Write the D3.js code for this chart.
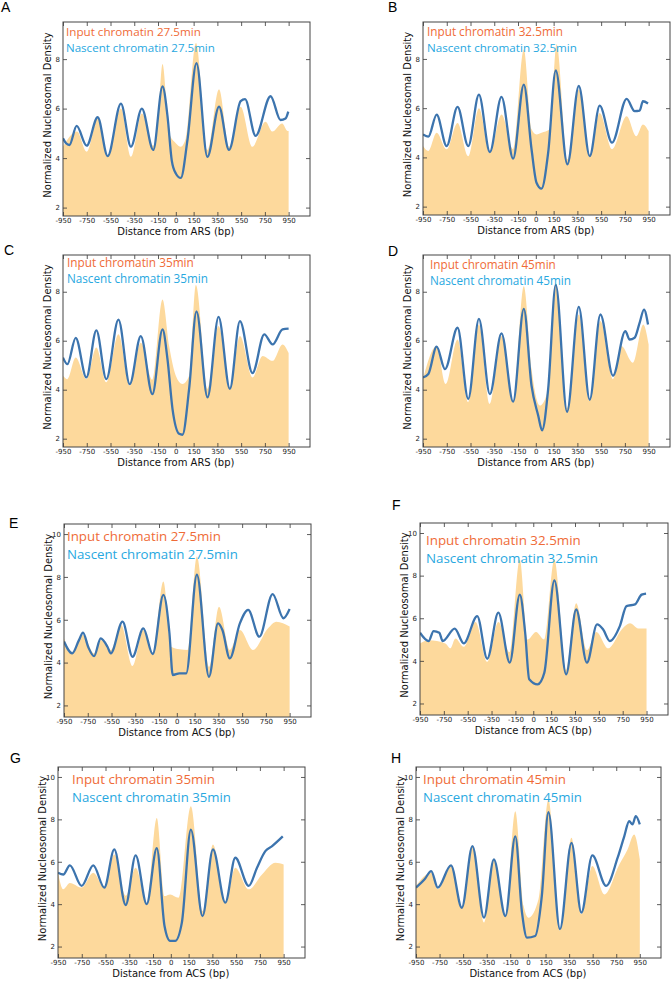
<!DOCTYPE html>
<html>
<head>
<meta charset="utf-8">
<script src="https://cdn.jsdelivr.net/npm/d3@7"></script>
<style>
  body { margin: 0; background: #fff; }
  svg text { font-family: "DejaVu Sans", sans-serif; }
  svg text.legend { font-family: "Open Sans", sans-serif; }
  svg text.letter { font-family: "Liberation Sans", Arial, sans-serif; }
</style>
</head>
<body>
<script>
// x ticks and y ticks
var xTicks = [-950, -750, -550, -350, -150, 0, 150, 350, 550, 750, 950];
var yTicksARS = [2, 4, 6, 8];
var yTicksACS = [2, 4, 6, 8, 10];
var timepoints = ["27.5", "32.5", "35", "45", "27.5", "32.5", "35", "45"];
var sites = ["ARS", "ARS", "ARS", "ARS", "ACS", "ACS", "ACS", "ACS"];

// [distance bp, density]
var inputA = [[-950,4.46],[-832,5.07],[-750,4.26],[-658,5.6],[-574,4.1],[-462,6.0],[-378,4.05],[-286,5.8],[-190,4.5],[-150,5.5],[-112,7.8],[-56,5.0],[0,4.6],[42,4.46],[84,4.8],[170,8.65],[266,4.33],[364,6.78],[448,4.46],[546,6.08],[644,4.46],[756,5.47],[812,5.07],[896,5.4],[941,5.1],[950,5.1]];
var nascentA = [[-950,4.8],[-924,4.6],[-896,4.53],[-835,5.3],[-751,4.5],[-658,5.65],[-574,4.08],[-462,6.2],[-378,4.46],[-286,6.0],[-190,4.33],[-112,6.9],[-70,5.7],[-34,3.9],[0,3.38],[42,3.2],[98,4.73],[174,7.84],[266,4.05],[364,6.08],[448,4.33],[546,6.3],[583,6.38],[672,4.9],[798,6.5],[882,5.54],[924,5.6],[947,5.88]];

var inputB = [[-950,4.46],[-905,4.26],[-835,5.0],[-751,4.33],[-659,5.4],[-569,4.05],[-479,6.0],[-387,4.19],[-289,5.74],[-191,4.33],[-101,8.38],[-36,5.14],[6,4.93],[48,5.0],[118,5.14],[175,8.6],[266,3.92],[362,6.76],[454,4.12],[538,5.8],[642,4.33],[765,5.67],[846,4.86],[902,5.34],[950,5.07]];
var nascentB = [[-950,4.93],[-905,4.84],[-835,5.74],[-751,4.46],[-659,6.05],[-569,4.46],[-479,6.55],[-387,4.22],[-289,6.46],[-191,3.95],[-101,6.96],[-36,4.33],[6,2.97],[48,2.73],[104,4.19],[168,7.53],[266,3.72],[362,6.9],[454,4.05],[538,6.1],[642,4.6],[765,6.38],[832,5.88],[874,5.9],[902,6.28],[945,6.19]];

var inputC = [[-950,4.57],[-913,4.43],[-843,5.31],[-753,4.43],[-669,5.72],[-585,4.3],[-483,6.26],[-388,4.16],[-295,5.92],[-197,4.4],[-112,7.68],[-56,5.78],[0,4.57],[56,4.23],[112,4.57],[169,8.28],[267,4.03],[360,6.6],[455,4.1],[540,6.19],[646,4.5],[731,5.38],[815,5.18],[899,5.85],[950,5.5]];
var nascentC = [[-950,5.31],[-913,5.04],[-843,6.12],[-753,4.5],[-669,6.42],[-585,4.43],[-483,6.86],[-388,4.23],[-295,6.19],[-197,3.82],[-112,6.46],[-70,5.24],[-28,3.22],[28,2.2],[56,2.16],[112,4.03],[174,7.2],[267,3.69],[360,6.97],[455,4.03],[540,6.8],[646,4.68],[745,6.26],[815,5.85],[899,6.46],[950,6.49]];

var inputD = [[-950,4.43],[-835,5.78],[-760,4.23],[-659,6.05],[-569,3.49],[-479,6.66],[-387,3.42],[-289,6.19],[-191,3.49],[-101,8.22],[-36,4.84],[34,3.35],[104,4.03],[168,8.35],[263,3.24],[362,7.07],[454,3.55],[544,6.8],[650,4.43],[720,5.78],[818,5.1],[905,6.66],[950,5.85]];
var nascentD = [[-950,4.5],[-905,4.64],[-835,5.76],[-765,4.84],[-659,6.53],[-569,3.62],[-479,6.89],[-387,3.82],[-289,6.3],[-191,3.51],[-101,7.3],[-36,4.16],[20,2.95],[53,2.34],[104,4.03],[168,8.28],[263,3.1],[362,7.38],[454,3.59],[544,7.07],[650,4.57],[754,6.39],[790,6.05],[832,6.12],[874,6.73],[911,7.27],[945,6.66]];

var inputE = [[-950,5.13],[-881,4.5],[-790,5.29],[-697,4.43],[-641,5.05],[-556,4.59],[-469,5.76],[-373,3.84],[-282,5.52],[-203,4.43],[-113,7.78],[-48,4.74],[23,4.62],[93,4.59],[169,8.95],[271,3.8],[355,6.61],[446,4.59],[531,5.52],[642,4.59],[768,5.6],[838,5.91],[950,5.68]];
var nascentE = [[-950,4.98],[-881,4.43],[-824,5.05],[-790,5.4],[-745,4.71],[-697,4.3],[-641,5.13],[-584,4.74],[-556,4.43],[-457,5.91],[-373,4.27],[-282,5.6],[-203,4.4],[-113,7.16],[-62,5.37],[-34,3.42],[23,3.5],[79,3.5],[169,8.1],[271,3.34],[347,5.83],[384,5.52],[446,4.2],[531,5.83],[601,6.46],[695,5.21],[807,7.2],[898,6.07],[950,6.5]];

var inputF = [[-950,4.82],[-878,4.97],[-737,4.82],[-695,4.59],[-653,5.05],[-583,4.66],[-484,5.83],[-386,3.96],[-293,5.83],[-197,4.4],[-113,8.75],[-48,5.0],[23,5.36],[93,5.0],[177,8.75],[276,3.57],[360,6.7],[450,4.51],[529,5.36],[628,4.59],[749,5.52],[811,5.76],[881,5.52],[950,5.52]];
var nascentF = [[-950,5.32],[-878,4.93],[-836,5.4],[-788,5.32],[-760,4.93],[-659,5.51],[-583,4.82],[-470,6.1],[-386,4.1],[-293,6.26],[-197,3.92],[-113,7.11],[-68,5.32],[-34,3.14],[37,2.9],[93,3.45],[177,7.78],[276,3.37],[360,6.41],[450,3.92],[535,5.71],[585,5.48],[642,4.93],[726,5.63],[782,6.57],[853,6.65],[909,7.11],[946,7.16]];

var inputG = [[-950,5.48],[-906,4.7],[-850,5.0],[-751,4.78],[-653,5.48],[-560,4.78],[-476,6.34],[-380,4.4],[-296,5.72],[-203,4.0],[-118,8.07],[-53,4.38],[-6,4.46],[65,4.3],[169,8.62],[267,3.68],[355,6.82],[459,4.07],[543,5.72],[656,4.7],[768,5.4],[881,5.95],[950,5.87]];
var nascentG = [[-950,5.48],[-906,5.4],[-850,5.83],[-751,4.86],[-653,5.83],[-560,4.78],[-476,6.58],[-380,3.96],[-296,6.3],[-203,4.0],[-118,6.64],[-53,2.97],[-6,2.27],[37,2.27],[93,3.13],[169,7.52],[267,3.44],[355,6.58],[459,4.07],[543,6.19],[656,4.86],[726,5.72],[796,6.5],[853,6.74],[943,7.2]];

var inputH = [[-950,4.86],[-821,5.48],[-765,4.7],[-653,5.8],[-561,3.83],[-471,6.74],[-373,3.13],[-289,6.11],[-191,3.44],[-107,8.38],[-36,3.91],[6,3.36],[90,4.23],[174,8.93],[272,2.74],[370,7.13],[454,3.52],[547,5.8],[650,4.46],[776,5.87],[846,6.58],[902,7.29],[950,6.11]];
var nascentH = [[-950,4.78],[-877,5.17],[-821,5.56],[-765,4.78],[-653,5.83],[-561,3.83],[-471,6.74],[-373,3.36],[-289,6.11],[-191,3.44],[-107,7.2],[-50,3.6],[-8,2.42],[62,2.5],[118,4.38],[174,8.34],[272,2.82],[370,6.89],[454,3.6],[547,6.3],[664,4.86],[762,6.19],[818,7.2],[860,7.91],[888,7.76],[916,8.15],[950,7.76]];

var inputs = [inputA, inputB, inputC, inputD, inputE, inputF, inputG, inputH];
var nascents = [nascentA, nascentB, nascentC, nascentD, nascentE, nascentF, nascentG, nascentH];
var letters = ["A", "B", "C", "D", "E", "F", "G", "H"];

// frame placement of each panel (lx/ly letter, gx/gy legend, tw legend widths)
var frames = [
  { left: 63,  top: 22,  w: 247, h: 194, lx: 1,   ly: 12,  gx: 3,  gy: 14, tw: [135, 149] },
  { left: 423, top: 22,  w: 247, h: 193, lx: 388, ly: 12,  gx: 4,  gy: 14, tw: [136, 150] },
  { left: 63,  top: 255, w: 247, h: 192, lx: 4,   ly: 255, gx: 4,  gy: 12, tw: [127, 141] },
  { left: 423, top: 255, w: 247, h: 192, lx: 388, ly: 256, gx: 7,  gy: 14, tw: [126, 141] },
  { left: 64,  top: 524, w: 247, h: 193, lx: 9,   ly: 528, gx: 3,  gy: 17, tw: [154, 171] },
  { left: 420, top: 523, w: 248, h: 192, lx: 392, ly: 510, gx: 6,  gy: 22, tw: [155, 172] },
  { left: 58,  top: 767, w: 247, h: 191, lx: 10,  ly: 763, gx: 14, gy: 17, tw: [143, 159] },
  { left: 416, top: 767, w: 245, h: 191, lx: 391, ly: 763, gx: 7,  gy: 17, tw: [143, 159] }
];

var svg = d3.select("body")
  .append("svg")
  .attr("width", 672)
  .attr("height", 981);

// size a legend line so it spans the wanted width
function fitText(sel, width) {
  var w = sel.node().getComputedTextLength();
  if (w > 0) sel.style("font-size", (12 * width / w) + "px");
}

letters.forEach(function (letter, i) {
  var f = frames[i];
  var acs = i >= 4;
  var x = d3.scaleLinear().domain([-950, 1130]).range([0, f.w]);
  var y = d3.scaleLinear().domain(acs ? [1.46, 10.47] : [1.66, 9.5]).range([f.h, 0]);
  var yTicks = acs ? yTicksACS : yTicksARS;

  var g = svg.append("g").attr("transform", "translate(" + f.left + "," + f.top + ")");

  g.append("clipPath").attr("id", "clip" + letter)
    .append("rect").attr("width", f.w).attr("height", f.h);

  var plot = g.append("g").attr("clip-path", "url(#clip" + letter + ")");

  var area = d3.area()
    .x(function (d) { return x(d[0]); })
    .y0(f.h)
    .y1(function (d) { return y(d[1]); })
    .curve(d3.curveMonotoneX);

  var line = d3.line()
    .x(function (d) { return x(d[0]); })
    .y(function (d) { return y(d[1]); })
    .curve(d3.curveMonotoneX);

  plot.append("path")
    .datum(inputs[i])
    .attr("d", area)
    .style("fill", "#fdd99c");

  plot.append("path")
    .datum(nascents[i])
    .attr("d", line)
    .style("fill", "none")
    .style("stroke", "#3c74ae")
    .style("stroke-width", 2.3);

  // axes, ticks pointing inward
  var xb = g.append("g").attr("transform", "translate(0," + f.h + ")")
    .call(d3.axisBottom(x).tickValues(xTicks).tickSize(-4).tickPadding(2.5));
  g.append("g").call(d3.axisTop(x).tickValues(xTicks).tickSize(-4).tickFormat(""));
  g.append("g")
    .call(d3.axisLeft(y).tickValues(yTicks).tickSizeInner(-4).tickPadding(3));
  g.append("g").attr("transform", "translate(" + f.w + ",0)")
    .call(d3.axisRight(y).tickValues(yTicks).tickSize(-4).tickFormat(""));

  g.selectAll(".domain").remove();
  g.selectAll(".tick line").style("stroke", "#333").style("stroke-width", 0.8);
  g.selectAll(".tick text")
    .style("font-size", "7px")
    .style("font-family", "'DejaVu Sans', sans-serif")
    .style("fill", "#222");
  xb.selectAll(".tick text").text(function (d) { return d; });

  g.append("rect")
    .attr("width", f.w).attr("height", f.h)
    .style("fill", "none")
    .style("stroke", "#444")
    .style("stroke-width", 1);

  // axis titles
  g.append("text")
    .attr("x", x(0))
    .attr("y", f.h + 19)
    .attr("text-anchor", "middle")
    .style("font-size", "10px")
    .style("fill", "#111")
    .text("Distance from " + sites[i] + " (bp)");

  g.append("text")
    .attr("transform", "translate(-12," + (f.h / 2 - 4) + ") rotate(-90)")
    .attr("text-anchor", "middle")
    .style("font-size", "10px")
    .style("fill", "#111")
    .text("Normalized Nucleosomal Density");

  // legend text
  var t1 = g.append("text").attr("class", "legend")
    .attr("x", f.gx).attr("y", f.gy)
    .style("font-size", "12px")
    .style("fill", "#ef6b37")
    .text("Input chromatin " + timepoints[i] + "min");
  fitText(t1, f.tw[0]);
  var t2 = g.append("text").attr("class", "legend")
    .attr("x", f.gx).attr("y", f.gy + (acs ? 17.5 : 16))
    .style("font-size", "12px")
    .style("fill", "#28a8df")
    .text("Nascent chromatin " + timepoints[i] + "min");
  fitText(t2, f.tw[1]);

  // panel letter
  svg.append("text").attr("class", "letter")
    .attr("x", f.lx).attr("y", f.ly)
    .style("font-size", "14px")
    .style("fill", "#000")
    .text(letter);
});
</script>
</body>
</html>
